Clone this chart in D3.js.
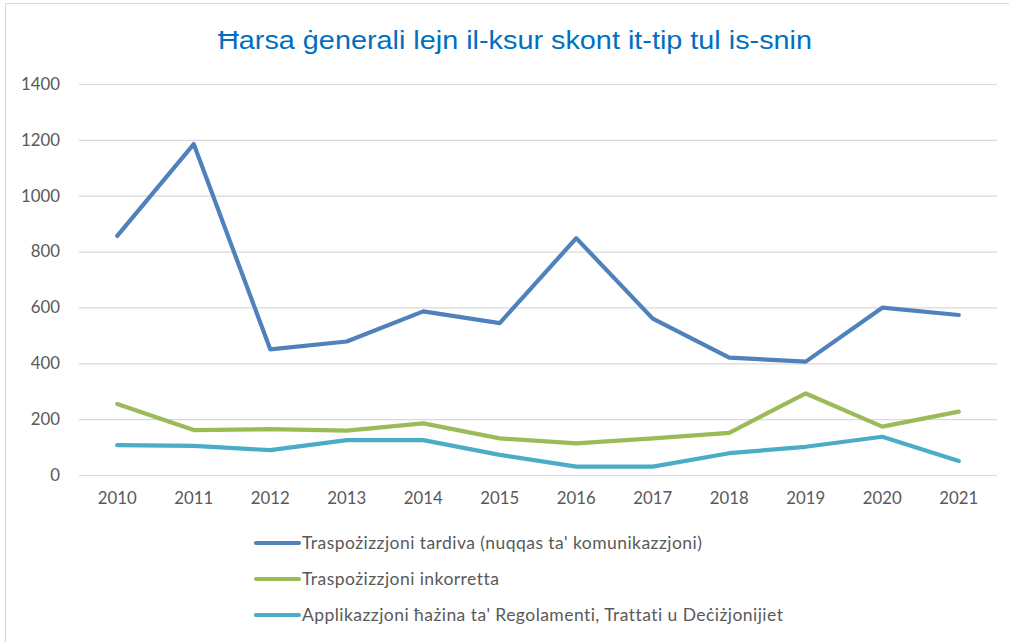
<!DOCTYPE html>
<html><head><meta charset="utf-8">
<script src="https://cdn.jsdelivr.net/npm/d3@7"></script>
<style>body{margin:0;background:#fff}svg{display:block}</style>
</head><body>
<svg id="c" width="1009" height="642"></svg>
<script>
const years = ["2010","2011","2012","2013","2014","2015","2016","2017","2018","2019","2020","2021"];
const seriesNames = ["Traspożizzjoni tardiva (nuqqas ta' komunikazzjoni)","Traspożizzjoni inkorretta","Applikazzjoni ħażina ta' Regolamenti, Trattati u Deċiżjonijiet"];
const tardiva = [856,1185,450,478,586,544,848,560,420,406,599,573];
const inkorretta = [254,161,164,159,185,131,113,131,151,292,173,227];
const applikazzjoni = [107,104,89,125,125,72,30,30,78,101,137,50];
const colors = ["#4F81BD","#9BBB59","#4BACC6"];
const yTicks = [0,200,400,600,800,1000,1200,1400];
const title = "Ħarsa ġenerali lejn il-ksur skont it-tip tul is-snin";

const svg = d3.select("#c");
const font = "Lato, 'Open Sans', sans-serif";
svg.append("rect").attr("x",5.5).attr("y",3.5).attr("width",1009).attr("height",660).attr("fill","#fff").attr("stroke","#d9d9d9");

const x = d3.scaleBand().domain(years).range([79,997]);
const y = d3.scaleLinear().domain([0,1400]).range([475,84]);

svg.append("text").attr("x",515).attr("y",49).attr("text-anchor","middle")
  .attr("font-family","'Liberation Sans', Arial, sans-serif").attr("font-size",26).attr("fill","#0070C0")
  .attr("textLength",594).attr("lengthAdjust","spacingAndGlyphs").text(title);

const gy = svg.append("g").attr("transform","translate(79,0)")
  .call(d3.axisLeft(y).tickValues(yTicks).tickSize(-918).tickPadding(19).tickFormat(d3.format("d")));
gy.select(".domain").remove();
gy.selectAll("line").attr("stroke","#d9d9d9").attr("stroke-width",1.2);
gy.selectAll("text").attr("font-family",font).attr("font-size",16.8).attr("fill","#595959");

const gx = svg.append("g").attr("transform","translate(0,475)")
  .call(d3.axisBottom(x).tickSize(0).tickPadding(17));
gx.select(".domain").remove();
gx.selectAll("text").attr("font-family",font).attr("font-size",16.8).attr("fill","#595959");

const data = [tardiva, inkorretta, applikazzjoni];
const line = d3.line().x((d,i)=>x(years[i])+x.bandwidth()/2).y(d=>y(d));
data.forEach((s,k)=>{
  svg.append("path").attr("d",line(s)).attr("fill","none").attr("stroke",colors[k])
    .attr("stroke-width",4.2).attr("stroke-linejoin","round").attr("stroke-linecap","round");
});

const legY = [543,579,615];
seriesNames.forEach((n,k)=>{
  svg.append("line").attr("x1",256).attr("x2",299).attr("y1",legY[k]).attr("y2",legY[k])
    .attr("stroke",colors[k]).attr("stroke-width",4.2).attr("stroke-linecap","round");
  svg.append("text").attr("x",302).attr("y",legY[k]+6).attr("font-family",font).attr("font-size",17.5)
    .attr("letter-spacing",0.45).attr("fill","#595959").text(n);
});
</script>
</body></html>
